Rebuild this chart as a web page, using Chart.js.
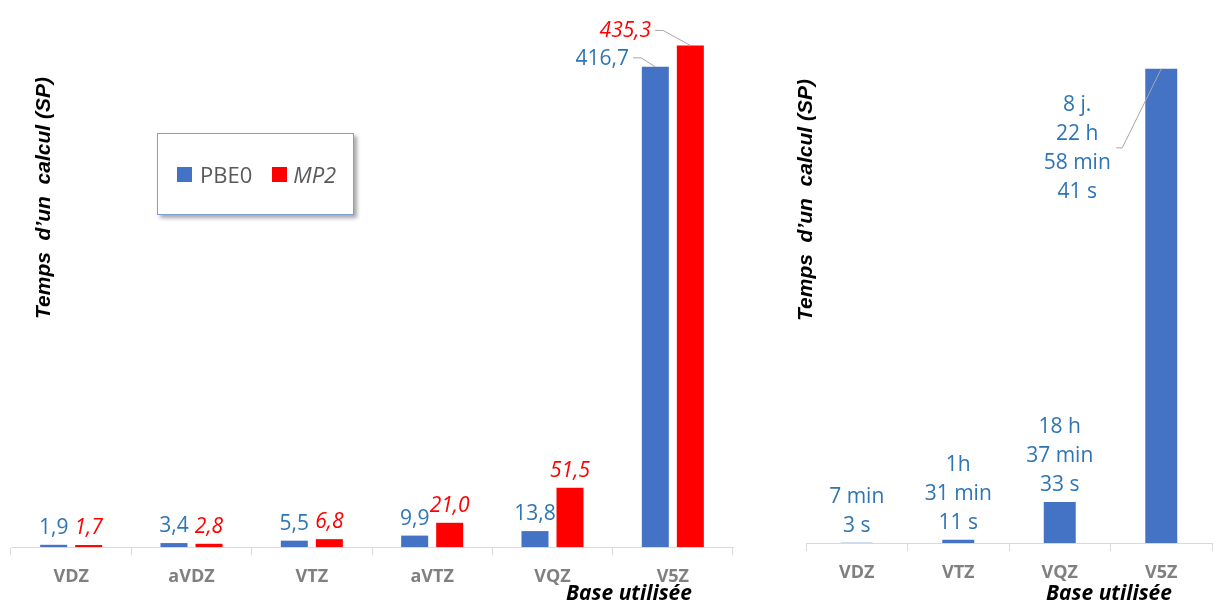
<!DOCTYPE html>
<html>
<head>
<meta charset="utf-8">
<script src="https://cdn.jsdelivr.net/npm/chart.js@4/dist/chart.umd.min.js"></script>
<style>
  html, body { margin: 0; padding: 0; background: #fff; }
  body { width: 1218px; height: 603px; position: relative; overflow: hidden; font-family: 'Open Sans', sans-serif; }
  .box { position: absolute; top: 0; height: 603px; }
  #leftBox { left: 0; width: 750px; }
  #rightBox { left: 760px; width: 458px; }
  .legend {
    position: absolute; left: 157px; top: 133px; width: 197px; height: 82px;
    border: 1px solid #7F9FD8; box-shadow: 3px 3px 4px rgba(0,0,0,0.35); background: #fff;
    display: flex; align-items: center; padding-left: 19px; box-sizing: border-box;
    font-size: 22px; color: #595959;
  }
  .legend .sw { width: 15px; height: 15px; display: inline-block; }
  .legend .it { display: flex; align-items: center; }
</style>
</head>
<body>
<div id="leftBox" class="box"><canvas id="chartLeft"></canvas></div>
<div id="rightBox" class="box"><canvas id="chartRight"></canvas></div>
<div class="legend">
  <div class="it"><span class="sw" style="background:#4472C4"></span><span style="margin-left:8px">PBE0</span></div>
  <div class="it" style="margin-left:20px"><span class="sw" style="background:#FF0000"></span><span style="margin-left:6px;font-style:italic">MP2</span></div>
</div>
<script>
// ---- data ----
const basesLeft = ['VDZ', 'aVDZ', 'VTZ', 'aVTZ', 'VQZ', 'V5Z'];
const pbe0Left = [1.9, 3.4, 5.5, 9.9, 13.8, 416.7];
const mp2Left = [1.7, 2.8, 6.8, 21.0, 51.5, 435.3];

const basesRight = ['VDZ', 'VTZ', 'VQZ', 'V5Z'];
const pbe0RightSec = [423, 5471, 67053, 773921];   // 7 min 3 s ... 8 j. 22 h 58 min 41 s
const pbe0RightTxt = [
  ['7 min', '3 s'],
  ['1h', '31 min', '11 s'],
  ['18 h', '37 min', '33 s'],
  ['8 j.', '22 h', '58 min', '41 s'],
];

const yTitle = 'Temps  d\u2019un  calcul (SP)';
const xTitle = 'Base utilisée';

// ---- colours ----
const BLUE = '#4472C4', RED = '#FF0000';
const BLUE_TXT = '#2E75B6', RED_TXT = '#FF0000';
const AXIS = '#D9D9D9', LEADER = '#A6A6A6';

function fmt(v) { return v.toFixed(1).replace('.', ','); }

function drawTitles(chart, yX, yY, xRightGap) {
  const ctx = chart.ctx, a = chart.chartArea;
  ctx.save();
  ctx.fillStyle = '#000';
  ctx.font = 'italic bold 21px "Liberation Sans", Arial, sans-serif';
  ctx.textAlign = 'center';
  ctx.textBaseline = 'middle';
  ctx.translate(yX, yY);
  ctx.rotate(-Math.PI / 2);
  ctx.fillText(yTitle, 0, 0);
  ctx.restore();

  ctx.save();
  ctx.fillStyle = '#000';
  ctx.font = 'italic bold 21px "Open Sans", sans-serif';
  ctx.textAlign = 'right';
  ctx.textBaseline = 'alphabetic';
  ctx.fillText(xTitle, a.right - xRightGap, 600);
  ctx.restore();
}

function leader(ctx, x0, y0, x1, bar) {
  ctx.strokeStyle = LEADER;
  ctx.lineWidth = 1;
  ctx.beginPath();
  ctx.moveTo(x0, y0);
  ctx.lineTo(x1, y0);
  ctx.lineTo(bar.x, bar.y);
  ctx.stroke();
}

// label offsets for the two tall V5Z bars (dataset-index)
const leftCallouts = { '0-5': { dx: -53, dy: -2 }, '1-5': { dx: -65, dy: -8 } };

const leftText = {
  id: 'leftText',
  afterDatasetsDraw(chart) {
    const ctx = chart.ctx;
    ctx.save();
    chart.data.datasets.forEach((ds, i) => {
      const meta = chart.getDatasetMeta(i);
      ctx.fillStyle = i === 0 ? BLUE_TXT : RED_TXT;
      ctx.font = (i === 1 ? 'italic ' : '') + '21px "Open Sans", sans-serif';
      ctx.textAlign = 'center';
      ctx.textBaseline = 'alphabetic';
      meta.data.forEach((bar, j) => {
        const txt = fmt(ds.data[j]);
        const c = leftCallouts[i + '-' + j];
        if (!c) { ctx.fillText(txt, bar.x, bar.y - 11); return; }
        const tx = bar.x + c.dx, ty = bar.y + c.dy;
        ctx.fillText(txt, tx, ty);
        const w = ctx.measureText(txt).width;
        leader(ctx, tx + w / 2 + 4, ty - 7, tx + w / 2 + 12, bar);
      });
    });
    ctx.restore();
    drawTitles(chart, 44, 198, 41);
  }
};

const rightText = {
  id: 'rightText',
  afterDatasetsDraw(chart) {
    const ctx = chart.ctx;
    const meta = chart.getDatasetMeta(0);
    ctx.save();
    ctx.fillStyle = BLUE_TXT;
    ctx.font = '21px "Open Sans", sans-serif';
    ctx.textAlign = 'center';
    ctx.textBaseline = 'middle';
    meta.data.forEach((bar, j) => {
      const lines = pbe0RightTxt[j];
      const n = lines.length;
      if (j === 3) {
        const tx = bar.x - 84;
        lines.forEach((l, k) => ctx.fillText(l, tx, bar.y + 36 + k * 29));
        leader(ctx, bar.x - 45, bar.y + 79, bar.x - 39, bar);
        return;
      }
      lines.forEach((l, k) => ctx.fillText(l, bar.x, bar.y - 17 - (n - 1 - k) * 29));
    });
    ctx.restore();
    drawTitles(chart, 46, 200, 40);
  }
};

function xScale(h) {
  return {
    grid: { display: true, drawOnChartArea: false, drawTicks: true, tickLength: 8, color: AXIS, offset: true },
    border: { display: true, color: AXIS, width: 1 },
    ticks: { color: '#808080', font: { family: 'Open Sans', size: 18, weight: 'bold' }, padding: 11 },
    afterFit(scale) { scale.height = h; }
  };
}

const common = {
  responsive: true,
  maintainAspectRatio: false,
  animation: false,
  plugins: { legend: { display: false }, tooltip: { enabled: false } },
};

new Chart(document.getElementById('chartLeft'), {
  type: 'bar',
  data: {
    labels: basesLeft,
    datasets: [
      { label: 'PBE0', data: pbe0Left, backgroundColor: BLUE, categoryPercentage: 0.582, barPercentage: 0.771 },
      { label: 'MP2', data: mp2Left, backgroundColor: RED, categoryPercentage: 0.582, barPercentage: 0.771 },
    ],
  },
  options: {
    ...common,
    layout: { padding: { left: 11, right: 17, top: 40, bottom: 0 } },
    scales: {
      x: xScale(56),
      y: { display: false, min: 0, max: 440 },
    },
  },
  plugins: [leftText],
});

new Chart(document.getElementById('chartRight'), {
  type: 'bar',
  data: {
    labels: basesRight,
    datasets: [
      { label: 'PBE0', data: pbe0RightSec, backgroundColor: BLUE, categoryPercentage: 1, barPercentage: 0.315 },
    ],
  },
  options: {
    ...common,
    layout: { padding: { left: 46, right: 6, top: 40, bottom: 0 } },
    scales: {
      x: xScale(60),
      y: { display: false, min: 0, max: 821000 },
    },
  },
  plugins: [rightText],
});
</script>
</body>
</html>
